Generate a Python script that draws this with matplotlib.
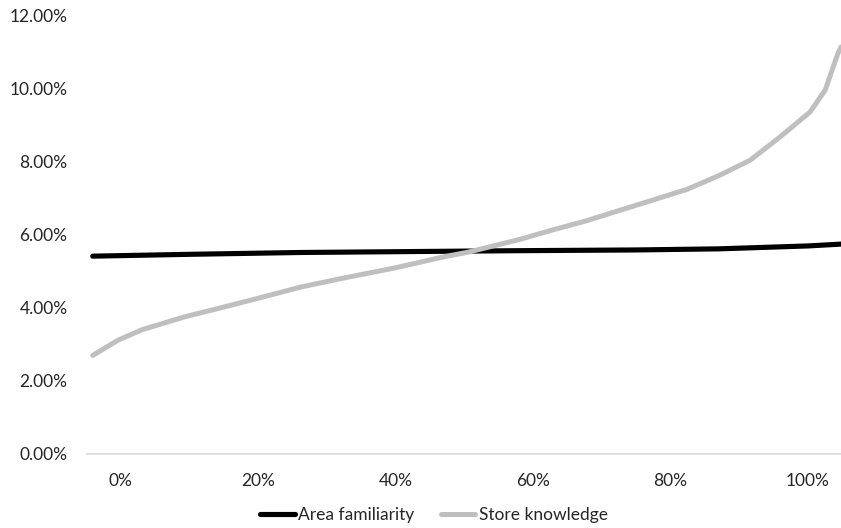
import matplotlib.pyplot as plt
from matplotlib.ticker import FuncFormatter

plt.rcParams['font.family'] = ['Lato', 'DejaVu Sans']

# percentile position along the x axis (in %)
x_store = [-4, -0.3, 3.1, 9.4, 14.3, 19.1, 26.4, 33, 40, 47, 50.6, 58.1, 62.9, 67.8,
           72.7, 77.5, 82.4, 87.2, 91.6, 95.9, 100.3, 102.5, 104.4, 104.8]
store_knowledge = [2.70, 3.12, 3.40, 3.76, 3.99, 4.22, 4.58, 4.84, 5.10, 5.40, 5.53, 5.88, 6.14, 6.39,
                   6.68, 6.96, 7.25, 7.64, 8.05, 8.68, 9.37, 9.97, 11.00, 11.15]

x_area = [-4, 10, 26, 45, 58, 75, 87, 100, 104.8]
area_familiarity = [5.42, 5.47, 5.52, 5.55, 5.57, 5.59, 5.62, 5.70, 5.75]

x_ticks = [0, 20, 40, 60, 80, 100]
y_ticks = [0, 2, 4, 6, 8, 10, 12]

fig = plt.figure(figsize=(8.41, 5.28), dpi=100)
ax = fig.add_axes([0.1034, 0.1402, 0.8966, 0.8295])

ax.plot(x_area, area_familiarity, color='black', lw=3.7, solid_capstyle='round', label='Area familiarity')
ax.plot(x_store, store_knowledge, color='#BFBFBF', lw=3.6, solid_capstyle='round', label='Store knowledge')

ax.set_xlim(-4.84, 104.8)
ax.set_ylim(0, 12)
ax.set_xticks(x_ticks)
ax.set_yticks(y_ticks)
ax.xaxis.set_major_formatter(FuncFormatter(lambda v, p: f'{v:.0f}%'))
ax.yaxis.set_major_formatter(FuncFormatter(lambda v, p: f'{v:.2f}%'))
ax.tick_params(length=0, labelsize=12.5, labelcolor='#262626')
ax.tick_params(axis='y', pad=14)
ax.tick_params(axis='x', pad=14)

for s in ['top', 'right', 'left']:
    ax.spines[s].set_visible(False)
ax.spines['bottom'].set_color('#D9D9D9')
ax.spines['bottom'].set_linewidth(1.2)

fig.legend(loc='center', bbox_to_anchor=(434 / 841, 1 - 515 / 528), ncol=2, frameon=False,
           fontsize=12.5, handlelength=2.0, handletextpad=0.2, columnspacing=1.5, labelcolor='#262626')

fig.savefig('out.png', dpi=100)
